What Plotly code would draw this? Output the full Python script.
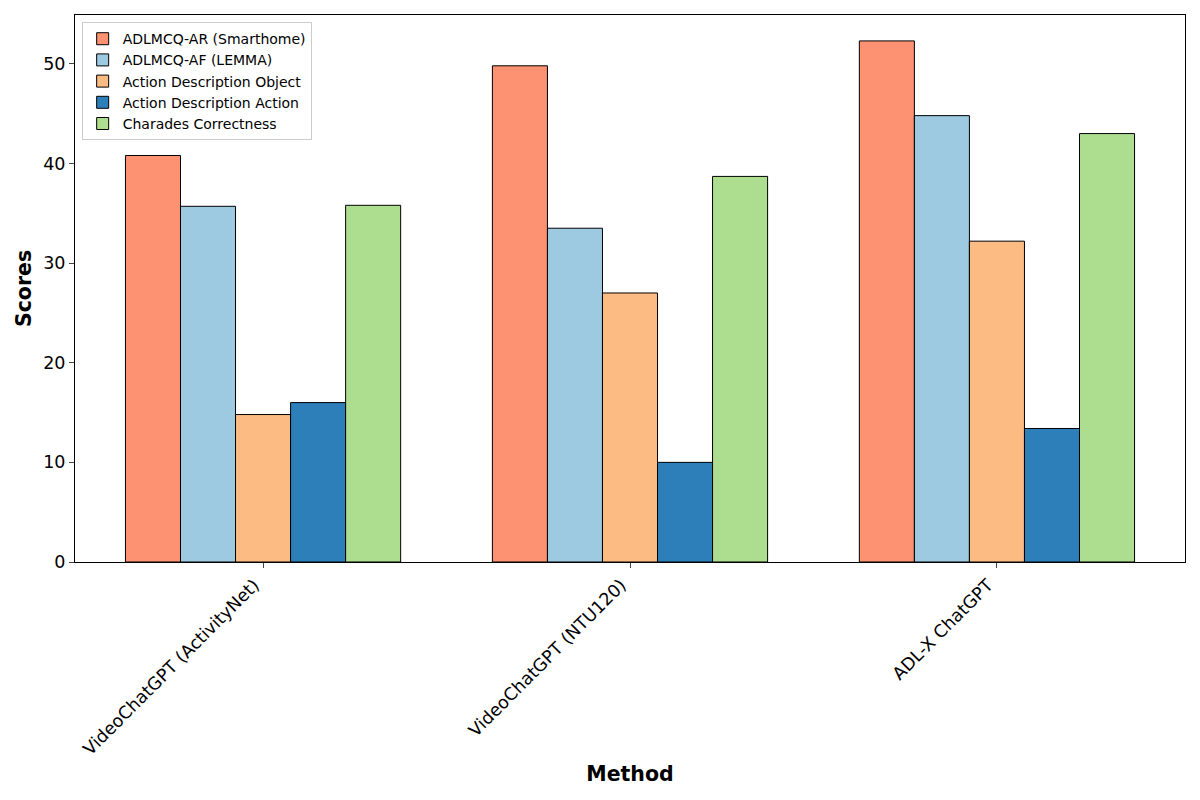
import plotly.graph_objects as go

methods = ["VideoChatGPT (ActivityNet)", "VideoChatGPT (NTU120)", "ADL-X ChatGPT"]
series_names = ["ADLMCQ-AR (Smarthome)", "ADLMCQ-AF (LEMMA)", "Action Description Object",
                "Action Description Action", "Charades Correctness"]
ar_smarthome = [40.8, 49.8, 52.3]
af_lemma = [35.7, 33.5, 44.8]
desc_object = [14.8, 27.0, 32.2]
desc_action = [16.0, 10.0, 13.4]
charades = [35.8, 38.7, 43.0]
colors = ["#fc9272", "#9ecae1", "#fdbb84", "#2c7fb8", "#addd8e"]

values = [ar_smarthome, af_lemma, desc_object, desc_action, charades]

fig = go.Figure()
for name, vals, col in zip(series_names, values, colors):
    fig.add_trace(go.Bar(x=methods, y=vals, name=name,
                         marker=dict(color=col, line=dict(color="black", width=1))))

font = "DejaVu Sans"
fig.update_layout(
    width=1192, height=792,
    barmode="group", bargap=0.25, bargroupgap=0,
    plot_bgcolor="white", paper_bgcolor="white",
    margin=dict(l=67, r=15, t=7, b=238),
    font=dict(family=font, color="black"),
    legend=dict(x=0.006, y=0.987, xanchor="left", yanchor="top",
                bgcolor="rgba(255,255,255,0.8)", bordercolor="#cccccc", borderwidth=1,
                font=dict(size=14, family=font), tracegroupgap=0),
    xaxis=dict(range=[-0.5125, 2.5125], tickangle=-45, showline=True, mirror=True,
               linecolor="black", linewidth=1, ticks="outside", ticklen=5,
               ticklabelshift=-9,
               tickfont=dict(size=17.5, family=font),
               title=dict(text="<b>Method</b>", font=dict(size=20.5, family=font), standoff=8)),
    yaxis=dict(range=[0, 54.9], dtick=10, showline=True, mirror=True, linecolor="black",
               linewidth=1, ticks="outside", ticklen=5, showgrid=False, zeroline=False,
               tickfont=dict(size=17.5, family=font),
               title=dict(text="<b>Scores</b>", font=dict(size=20.5, family=font), standoff=6)),
)
fig.write_html("out.html")
